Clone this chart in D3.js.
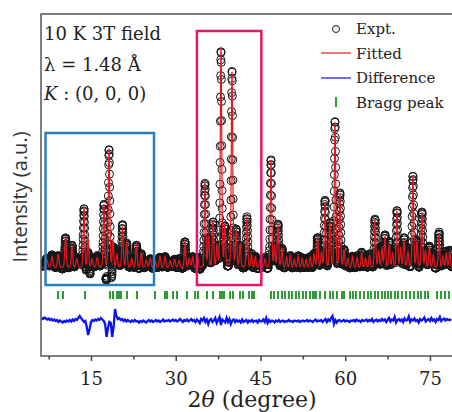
<!DOCTYPE html>
<html>
<head>
<meta charset="utf-8">
<script src="https://cdn.jsdelivr.net/npm/d3@7"></script>
<style>
  body { margin: 0; background: #fff; }
  svg { display: block; }
</style>
</head>
<body>
<svg id="chart" width="452" height="412"></svg>
<script>
// Refined reflections: position (2θ, deg), height (counts above background), FWHM (deg)
const peakPos = [7.2, 8.1, 9.2, 10.49, 11.64, 12.5, 13.76, 14.47, 15.2, 16.1,
  17.3, 18.19, 18.9, 19.6, 20.58, 21.3, 22.2, 23.05, 23.9, 24.8,
  25.5, 26.4, 27.2, 28.1, 29.0, 29.8, 30.6, 31.64, 32.4, 33.0,
  33.9, 35.18, 35.8, 36.59, 37.3, 38.01, 38.7, 39.96, 40.7, 41.4,
  42.61, 43.4, 44.1, 44.9, 45.8, 46.86, 47.5, 48.1, 48.8, 49.6,
  50.3, 51.0, 51.7, 52.4, 53.1, 53.8, 54.5, 55.1, 55.8, 56.42,
  57.3, 58.19, 59.07, 59.8, 60.5, 61.3, 62.1, 62.9, 63.6, 64.3,
  65.27, 65.9, 66.5, 67.04, 67.8, 68.4, 69.16, 69.8, 70.4, 71.1,
  71.99, 72.7, 73.58, 74.2, 74.9, 75.6, 76.59, 77.3, 77.9, 78.5];
const peakHeight = [160, 220, 260, 620, 420, 180, 1200, 580, 170, 200,
  1260, 2380, 520, 260, 820, 500, 180, 460, 300, 150,
  190, 130, 230, 220, 140, 170, 150, 520, 190, 220,
  190, 1700, 620, 920, 420, 4400, 820, 3920, 720, 460,
  1000, 260, 220, 150, 170, 2160, 420, 860, 380, 210,
  250, 170, 230, 190, 170, 210, 270, 600, 300, 1300,
  880, 2900, 1460, 330, 190, 230, 210, 290, 190, 250,
  960, 330, 380, 620, 460, 290, 1120, 380, 540, 310,
  1820, 500, 1100, 330, 420, 250, 660, 230, 290, 320];
const peakWidth = [0.4, 0.4, 0.35, 0.32, 0.32, 0.35, 0.3, 0.3, 0.35, 0.35,
  0.3, 0.3, 0.3, 0.3, 0.3, 0.3, 0.35, 0.3, 0.3, 0.35,
  0.35, 0.35, 0.35, 0.35, 0.35, 0.35, 0.35, 0.3, 0.35, 0.3,
  0.3, 0.3, 0.3, 0.3, 0.3, 0.3, 0.3, 0.3, 0.3, 0.3,
  0.3, 0.3, 0.3, 0.35, 0.35, 0.3, 0.3, 0.3, 0.3, 0.3,
  0.3, 0.3, 0.3, 0.3, 0.3, 0.3, 0.3, 0.3, 0.3, 0.3,
  0.3, 0.3, 0.3, 0.3, 0.3, 0.3, 0.3, 0.3, 0.3, 0.3,
  0.3, 0.3, 0.3, 0.3, 0.3, 0.3, 0.3, 0.3, 0.3, 0.3,
  0.3, 0.3, 0.3, 0.3, 0.3, 0.3, 0.3, 0.3, 0.3, 0.3];
const background = 140;
const lorentzFraction = 0.2;

// Scan range of the measured pattern
const scanStart = 6.2, scanEnd = 78.9, scanStep = 0.025;

// Residual (obs - calc), sampled every 0.25 deg from 6.25 deg
const diffStart = 6.25, diffStep = 0.25;
const diffValues = [
  60, 40, 70, 50, 30, 50, 20, 40, 10, 30,
  0, 20, -20, 10, -10, -30, 0, -20, 10, -10,
  20, -10, 30, 0, 40, 20, 60, 100, 60, 20,
  -20, 0, -120, -280, -160, -20, 20, 0, 30, 10,
  40, 20, 60, 30, 0, -60, -320, -140, -20, -40,
  -320, -120, 240, 100, 40, 60, 20, 40, 0, 30,
  -10, 20, 0, -20, 10, -10, 20, -10, 0, -30,
  0, -20, 10, -10, -30, 0, 20, -10, 10, -20,
  0, 20, -10, 10, -20, 0, 30, -10, 10, 0,
  20, -10, 10, 30, 0, 20, -10, 10, 40, 10,
  -20, 20, 0, 30, -10, 10, 40, 0, 20, -20,
  30, 0, -40, 40, 10, 60, -20, 30, -60, 20,
  40, -20, 10, 60, -40, 20, 80, -80, 30, 0,
  -30, 60, -20, 40, -60, 10, 30, -20, 20, -10,
  10, -30, 30, -20, 0, 20, -30, 10, -10, 20,
  -20, 0, 10, -30, 20, -10, 0, 30, -20, 60,
  -40, 20, -20, 10, 0, -30, 10, -10, 20, -20,
  0, 10, -20, 0, -10, 20, -10, 0, -20, 10,
  0, -10, 10, -20, 0, 10, -10, 0, 20, -10,
  10, 0, -20, 10, 30, -10, 10, 0, 20, -20,
  10, 40, -20, 30, 0, 60, 100, -60, 20, -30,
  10, 20, -10, 0, 20, -10, 10, 0, -20, 10,
  0, 20, -10, 30, 0, 10, -20, 20, 0, 10,
  30, -10, 20, 0, 40, -20, 10, 30, -10, 20,
  0, 40, 10, 30, -20, 20, 60, -10, 30, 10,
  80, -30, 20, 40, 0, 30, -20, 50, 10, 20,
  90, -20, 30, 10, 50, 0, 20, -30, 40, 10,
  30, 70, -10, 20, 40, 0, 60, 10, 30, -20,
  40, 20, 80, 0, 30, 50, 10, 40, 20, 30, 10];
const diffOffset = -920;

// Allowed Bragg reflection positions (deg)
const braggPos = [9.16, 10.04, 13.94, 18.36, 18.89, 19.60, 19.96, 20.31, 21.37, 23.14,
  26.33, 28.10, 28.45, 29.51, 30.22, 31.99, 33.41, 33.94, 35.53, 36.59,
  37.83, 38.19, 38.54, 39.60, 40.13, 41.37, 41.90, 42.96, 43.50, 43.85,
  46.86, 47.39, 48.10, 48.81, 49.34, 50.04, 50.58, 51.28, 51.81, 52.52,
  53.05, 53.76, 54.29, 54.65, 54.82, 55.53, 56.42, 57.30, 57.83, 58.54,
  59.43, 59.78, 60.84, 61.37, 61.90, 62.61, 63.32, 64.03, 64.56, 65.27,
  65.80, 66.50, 67.04, 67.57, 68.10, 68.81, 69.34, 70.04, 70.75, 71.46,
  72.17, 72.88, 73.41, 74.12, 74.65, 76.24, 76.95, 77.66, 78.36];
const braggLevel = -400;

const xTicks = [15, 30, 45, 60, 75];
const xMinorTicks = [7.5, 22.5, 37.5, 52.5, 67.5];

const infoLines = ["10 K 3T field", "λ = 1.48 Å"];
const legendLabels = ["Expt.", "Fitted", "Difference", "Bragg peak"];

// ---- layout ----
const plot = { left: 41, top: 14, right: 452, bottom: 356 };
const svg = d3.select("#chart");

const x = d3.scaleLinear().domain([6.15, 78.9]).range([plot.left, plot.right]);
const y = d3.scaleLinear().domain([-1620, 5220]).range([plot.bottom, plot.top]);

function profile(t) {
  let s = background;
  for (let k = 0; k < peakPos.length; k++) {
    const u = (t - peakPos[k]) / peakWidth[k];
    const u2 = 4 * u * u;
    if (u2 > 400) continue;
    const g = Math.exp(-Math.LN2 * u2);
    const l = 1 / (1 + u2);
    s += peakHeight[k] * (lorentzFraction * l + (1 - lorentzFraction) * g);
  }
  return s;
}

const nScan = Math.round((scanEnd - scanStart) / scanStep) + 1;
const scan = d3.range(nScan).map(i => {
  const t = scanStart + i * scanStep;
  const calc = profile(t);
  const j = Math.max(0, Math.min(diffValues.length - 1, Math.round((t - diffStart) / diffStep)));
  return { t, calc, obs: calc + diffValues[j] };
});
const diffSeries = diffValues.map((v, i) => ({ t: diffStart + i * diffStep, v: v + diffOffset }));

svg.append("defs").append("clipPath").attr("id", "plotClip")
  .append("rect").attr("x", plot.left).attr("y", plot.top)
  .attr("width", plot.right - plot.left).attr("height", plot.bottom - plot.top);

const g = svg.append("g").attr("clip-path", "url(#plotClip)");

// observed points
g.append("g").selectAll("circle").data(scan).join("circle")
  .attr("cx", d => x(d.t)).attr("cy", d => y(d.obs)).attr("r", 4)
  .attr("fill", "none").attr("stroke", "#161616").attr("stroke-width", 1);

// fitted profile
g.append("path").datum(scan)
  .attr("d", d3.line().x(d => x(d.t)).y(d => y(d.calc)))
  .attr("fill", "none").attr("stroke", "#e3161e").attr("stroke-width", 1.2);

// difference curve
g.append("path").datum(diffSeries)
  .attr("d", d3.line().x(d => x(d.t)).y(d => y(d.v)))
  .attr("fill", "none").attr("stroke", "#0a14f0").attr("stroke-width", 2.3);

// Bragg markers
g.append("g").selectAll("line").data(braggPos).join("line")
  .attr("x1", d => x(d)).attr("x2", d => x(d))
  .attr("y1", y(braggLevel) - 4).attr("y2", y(braggLevel) + 4)
  .attr("stroke", "#2f9a3a").attr("stroke-width", 2);

// highlighted regions
const regions = [
  { from: 6.95, to: 26.15, top: 133, color: "#2a7fc3" },
  { from: 33.75, to: 45.15, top: 31, color: "#e3186a" }
];
svg.append("g").selectAll("rect").data(regions).join("rect")
  .attr("x", d => x(d.from)).attr("width", d => x(d.to) - x(d.from))
  .attr("y", d => d.top).attr("height", d => 285 - d.top)
  .attr("fill", "none").attr("stroke", d => d.color).attr("stroke-width", 2.5);

// frame
svg.append("rect").attr("x", plot.left).attr("y", plot.top)
  .attr("width", plot.right - plot.left + 10).attr("height", plot.bottom - plot.top)
  .attr("fill", "none").attr("stroke", "#555").attr("stroke-width", 1.5);

// x axis
const axisFont = "'DejaVu Serif', serif";
const ax = svg.append("g").attr("transform", `translate(0,${plot.bottom})`)
  .call(d3.axisBottom(x).tickValues(xTicks).tickSize(5).tickSizeOuter(0).tickPadding(11));
ax.select(".domain").remove();
ax.selectAll(".tick line").attr("stroke", "#444").attr("stroke-width", 1.5);
ax.selectAll(".tick text").attr("font-family", axisFont).attr("font-size", 18).attr("fill", "#222");
const axm = svg.append("g").attr("transform", `translate(0,${plot.bottom})`)
  .call(d3.axisBottom(x).tickValues(xMinorTicks).tickSize(3.5).tickFormat(""));
axm.select(".domain").remove();
axm.selectAll(".tick line").attr("stroke", "#444").attr("stroke-width", 1.5);

// axis titles
const xt = svg.append("text").attr("x", 252).attr("y", 407).attr("text-anchor", "middle")
  .attr("font-family", axisFont).attr("font-size", 22).attr("fill", "#222");
xt.append("tspan").text("2");
xt.append("tspan").attr("font-style", "italic").text("θ");
xt.append("tspan").text(" (degree)");

svg.append("text").attr("transform", "translate(27,197) rotate(-90)")
  .attr("text-anchor", "middle").attr("font-family", "'Open Sans', sans-serif")
  .attr("font-size", 20).attr("fill", "#333").text("Intensity (a.u.)");

// sample information
const info = svg.append("g").attr("font-family", axisFont).attr("font-size", 18).attr("fill", "#222");
infoLines.forEach((s, i) => info.append("text").attr("x", 44).attr("y", 40 + i * 31).text(s));
const kt = info.append("text").attr("x", 44).attr("y", 100);
kt.append("tspan").attr("font-style", "italic").text("K");
kt.append("tspan").text(" : (0, 0, 0)");

// legend
const lg = svg.append("g").attr("font-family", axisFont).attr("font-size", 15).attr("fill", "#222");
legendLabels.forEach((s, i) => lg.append("text").attr("x", 356).attr("y", 34 + i * 24.7).text(s));
lg.append("circle").attr("cx", 336).attr("cy", 29).attr("r", 3.5)
  .attr("fill", "none").attr("stroke", "#1c1c1c").attr("stroke-width", 1);
lg.append("line").attr("x1", 321).attr("x2", 351).attr("y1", 53).attr("y2", 53)
  .attr("stroke", "#e3161e").attr("stroke-width", 1.2);
lg.append("line").attr("x1", 321).attr("x2", 351).attr("y1", 78).attr("y2", 78)
  .attr("stroke", "#0a14f0").attr("stroke-width", 1.2);
lg.append("line").attr("x1", 336).attr("x2", 336).attr("y1", 97).attr("y2", 107)
  .attr("stroke", "#2f9a3a").attr("stroke-width", 2);
</script>
</body>
</html>
